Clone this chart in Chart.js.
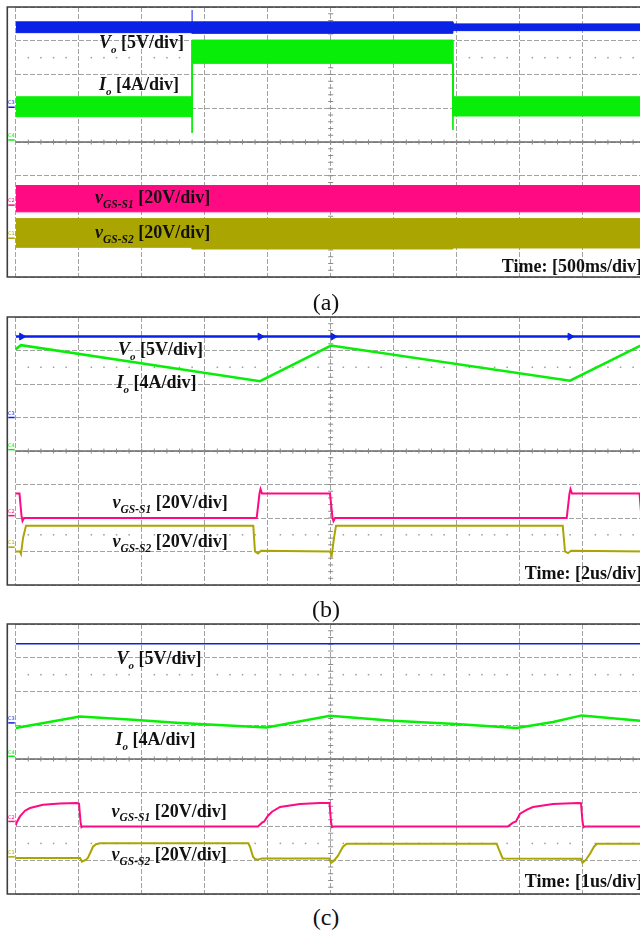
<!DOCTYPE html>
<html>
<head>
<meta charset="utf-8">
<script src="https://cdn.jsdelivr.net/npm/chart.js@4.4.1/dist/chart.umd.min.js"></script>
<style>
  html, body { margin: 0; padding: 0; background: #fff; }
  body { width: 640px; height: 933px; overflow: hidden; position: relative; }
  canvas.scope { position: absolute; left: 0; }
  .lbl { position: absolute; font-family: "Liberation Serif", "Times New Roman", serif; font-weight: bold;
         font-size: 18px; line-height: 18px; white-space: nowrap; color: #111; }
  .lbl i { font-style: italic; }
  .lbl sub { font-size: 11px; font-style: italic; vertical-align: baseline; position: relative; top: 5px; }
  .lbl.sw sub { font-size: 11.5px; top: 4.5px; }
  .time { text-align: right; right: -2px; }
  .cap { position: absolute; font-family: "Liberation Serif", "Times New Roman", serif; font-size: 24px;
         line-height: 24px; width: 60px; text-align: center; color: #111; }
  .ch { position: absolute; font-family: "DejaVu Sans", sans-serif; font-size: 5px; line-height: 5px; }
</style>
</head>
<body>
<canvas id="scopeA" class="scope" width="660" height="278"></canvas>
<canvas id="scopeB" class="scope" width="660" height="278"></canvas>
<canvas id="scopeC" class="scope" width="660" height="278"></canvas>
<script>
// All trace values are in screen divisions: x = 0..10 time divisions, y = -4..+4 from the centre line.
const CH_COLORS = { vo: '#0a22e6', io: '#08ee08', s1: '#ff0a82', s2: '#aaa500' };

// ---- (a) 500 ms/div: load step, traces are switching-ripple envelopes ----
const aVoUpper = [[0, 3.56], [6.94, 3.56], [6.94, 3.50], [10, 3.50]];
const aVoLower = [[0, 3.24], [2.80, 3.24], [2.80, 3.22], [6.94, 3.22], [6.94, 3.30], [10, 3.30]];
const aVoSpike = [[2.80, 3.22], [2.80, 3.91]];
const aIoUpper = [[0, 1.34], [2.80, 1.34], [2.80, 3.02], [6.94, 3.02], [6.94, 1.34], [10, 1.34]];
const aIoLower = [[0, 0.75], [2.80, 0.75], [2.80, 2.33], [6.94, 2.33], [6.94, 0.77], [10, 0.77]];
const aIoSpike1 = [[2.80, 3.02], [2.80, 0.27]];
const aIoSpike2 = [[6.94, 2.33], [6.94, 0.36]];
const aS1Upper = [[0, -1.29], [10, -1.29]];
const aS1Lower = [[0, -2.07], [10, -2.07]];
const aS2Upper = [[0, -2.27], [10, -2.27]];
const aS2Lower = [[0, -3.12], [2.80, -3.12], [2.80, -3.17], [6.94, -3.17], [6.94, -3.14], [10, -3.14]];
const aGround = { vo: 1.03, io: 0.06, s1: -1.87, s2: -2.85 };

// ---- (b) 2 us/div ----
const bVo = [[0, 3.415], [10, 3.415]];
const bVoEdges = [0.095, 3.88, 5.04, 8.80];
const bIo = [[0, 3.04], [0.084, 3.16], [3.878, 2.086], [5.005, 3.146], [8.798, 2.10], [9.91, 3.14], [10, 3.06]];
const bS1 = [[0, -1.27], [0.060, -1.27], [0.092, -1.93], [0.108, -2.09], [0.132, -2.0], [3.825, -2.0],
             [3.870, -1.27], [3.886, -1.14], [3.910, -1.27], [4.989, -1.27], [5.029, -2.0], [5.044, -2.09],
             [5.068, -2.0], [8.746, -2.0], [8.790, -1.27], [8.806, -1.14], [8.830, -1.27], [9.902, -1.27],
             [9.933, -2.0], [10, -2.0]];
const bS2 = [[0, -3.0], [0.068, -3.0], [0.084, -3.07], [0.116, -2.6], [0.163, -2.23], [3.771, -2.23],
             [3.798, -3.0], [3.846, -3.06], [3.894, -2.98], [4.989, -3.0], [5.016, -3.12], [5.052, -2.6],
             [5.084, -2.23], [8.683, -2.23], [8.719, -3.0], [8.767, -3.05], [8.814, -2.98], [10, -3.0]];
const bGround = { vo: 1.0, io: 0.04, s1: -1.93, s2: -2.87 };

// ---- (c) 1 us/div ----
const cVo = [[0, 3.416], [10, 3.416]];
const cIo = [[0, 0.918], [1.02, 1.262], [1.862, 1.164], [2.608, 1.067], [3.984, 0.936], [4.989, 1.283],
             [5.984, 1.135], [6.984, 1.037], [7.952, 0.918], [8.529, 1.096], [8.984, 1.292], [9.91, 1.135],
             [10, 1.105]];
const cS1 = [[0, -1.976], [0.021, -1.858], [0.068, -1.701], [0.148, -1.532], [0.227, -1.452], [0.433, -1.354],
             [0.703, -1.319], [0.973, -1.304], [1.005, -1.324], [1.029, -1.858], [1.044, -2.021], [1.068, -1.997],
             [3.846, -1.997], [3.910, -1.887], [3.941, -1.858], [4.005, -1.680], [4.068, -1.561], [4.195, -1.422],
             [4.513, -1.333], [4.830, -1.304], [4.981, -1.304], [5.005, -1.858], [5.021, -2.021], [5.052, -1.997],
             [7.814, -1.997], [7.894, -1.887], [7.941, -1.849], [8.005, -1.621], [8.116, -1.502], [8.211, -1.422],
             [8.529, -1.333], [8.925, -1.304], [8.973, -1.310], [8.997, -1.858], [9.013, -2.021], [9.037, -1.997],
             [10, -1.997]];
const cS2 = [[0, -2.930], [1.021, -2.930], [1.052, -3.043], [1.116, -2.984], [1.148, -2.924], [1.227, -2.599],
             [1.275, -2.524], [1.338, -2.495], [3.692, -2.495], [3.719, -2.599], [3.767, -2.895], [3.798, -2.963],
             [3.846, -2.984], [3.910, -2.945], [4.973, -2.945], [5.005, -3.081], [5.052, -3.013], [5.116, -2.865],
             [5.195, -2.599], [5.254, -2.510], [7.635, -2.510], [7.671, -2.687], [7.730, -2.945], [8.973, -2.954],
             [8.997, -3.081], [9.052, -2.984], [9.116, -2.806], [9.179, -2.599], [9.227, -2.510], [10, -2.510]];
const cGround = { vo: 1.07, io: 0.08, s1: -1.85, s2: -2.90 };

const CH_NAMES = { vo: 'C3', io: 'C4', s1: 'C2', s2: 'C1' };

const pts = arr => arr.map(([x, y]) => ({ x, y }));

function trace(arr, color, width) {
  return { data: pts(arr), borderColor: color, borderWidth: width, fill: false, pointRadius: 0 };
}
function band(upper, lower, color) {
  return [
    { data: pts(upper), borderColor: color, borderWidth: 1, fill: false, pointRadius: 0 },
    { data: pts(lower), borderColor: color, borderWidth: 1, fill: '-1', backgroundColor: color, pointRadius: 0 }
  ];
}

// Graticule extras: centre cross with minor ticks, dotted reference rows, frame, ground markers
const graticule = {
  id: 'graticule',
  beforeDatasetsDraw(chart, args, opts) {
    const { ctx, chartArea: a, scales: { x, y } } = chart;
    const frameLeft = a.left - 8.4;
    ctx.save();
    // dotted rows
    ctx.fillStyle = '#9c9c9c';
    [2.5, -2.5].forEach(v => {
      const py = y.getPixelForValue(v);
      for (let k = 1; k < 50; k++) {
        if (k % 5 === 0) continue;
        ctx.fillRect(x.getPixelForValue(k / 5) - 0.7, py - 0.7, 1.5, 1.5);
      }
    });
    // centre horizontal line
    const cy = y.getPixelForValue(0), cx = x.getPixelForValue(5);
    ctx.strokeStyle = '#6a6a6a'; ctx.lineWidth = 1.4;
    ctx.beginPath(); ctx.moveTo(a.left, cy); ctx.lineTo(a.right, cy); ctx.stroke();
    // minor ticks on centre lines
    ctx.strokeStyle = '#8a8a8a'; ctx.lineWidth = 1;
    ctx.beginPath();
    for (let k = 1; k < 50; k++) {
      const px = x.getPixelForValue(k / 5);
      ctx.moveTo(px, cy - 2.5); ctx.lineTo(px, cy + 2.5);
    }
    for (let k = -19; k < 20; k++) {
      const py = y.getPixelForValue(k / 5);
      ctx.moveTo(cx - 2.5, py); ctx.lineTo(cx + 2.5, py);
    }
    ctx.stroke();
    // outer frame
    ctx.strokeStyle = '#3c3c3c'; ctx.lineWidth = 1.6;
    ctx.beginPath();
    ctx.moveTo(a.right + 20, a.top); ctx.lineTo(frameLeft, a.top); ctx.lineTo(frameLeft, a.bottom); ctx.lineTo(a.right + 20, a.bottom);
    ctx.stroke();
    // channel ground markers
    Object.entries(opts.ground || {}).forEach(([k, v]) => {
      const py = y.getPixelForValue(v);
      ctx.strokeStyle = CH_COLORS[k]; ctx.lineWidth = 1.5;
      ctx.beginPath(); ctx.moveTo(frameLeft + 1, py); ctx.lineTo(a.left - 1, py); ctx.stroke();
    });
    ctx.restore();
  }
};

function scopePanel(id, top, datasets, ground) {
  const cv = document.getElementById(id);
  cv.style.top = (top - 4) + 'px';
  const gridOpts = { color: '#a3a3a3', lineWidth: 1, drawTicks: false };
  const chart = new Chart(cv, {
    type: 'line',
    data: { datasets },
    options: {
      responsive: false, animation: false, devicePixelRatio: 1,
      layout: { padding: { left: 15.7, right: 14.3, top: 4, bottom: 4 } },
      elements: { line: { tension: 0 }, point: { radius: 0 } },
      plugins: { legend: { display: false }, tooltip: { enabled: false }, graticule: { ground } },
      scales: {
        x: { type: 'linear', min: 0, max: 10, ticks: { display: false, stepSize: 1 }, grid: gridOpts,
             border: { display: false, dash: [5, 2] }, afterFit: s => { s.height = 0; } },
        y: { type: 'linear', min: -4, max: 4, ticks: { display: false, stepSize: 1 }, grid: gridOpts,
             border: { display: false, dash: [5, 2] }, afterFit: s => { s.width = 0; } }
      }
    },
    plugins: [graticule]
  });
  // small channel tags next to the ground markers
  Object.entries(ground).forEach(([k, v]) => {
    const s = document.createElement('span');
    s.className = 'ch';
    s.textContent = CH_NAMES[k];
    s.style.color = CH_COLORS[k];
    s.style.left = '8px';
    s.style.top = (top - 4 + chart.scales.y.getPixelForValue(v) - 7) + 'px';
    document.body.appendChild(s);
  });
  return chart;
}

scopePanel('scopeA', 7, [
  ...band(aVoUpper, aVoLower, CH_COLORS.vo),
  trace(aVoSpike, CH_COLORS.vo, 1),
  ...band(aIoUpper, aIoLower, CH_COLORS.io),
  trace(aIoSpike1, CH_COLORS.io, 1),
  trace(aIoSpike2, CH_COLORS.io, 1),
  ...band(aS1Upper, aS1Lower, CH_COLORS.s1),
  ...band(aS2Upper, aS2Lower, CH_COLORS.s2)
], aGround);

scopePanel('scopeB', 316, [
  { data: bVoEdges.map(x => ({ x, y: bVo[0][1] })), showLine: false, pointStyle: 'triangle', rotation: 90,
    pointRadius: 4, pointBackgroundColor: CH_COLORS.vo, pointBorderColor: CH_COLORS.vo },
  trace(bVo, CH_COLORS.vo, 2.5),
  trace(bIo, CH_COLORS.io, 2.5),
  trace(bS1, CH_COLORS.s1, 2),
  trace(bS2, CH_COLORS.s2, 2)
], bGround);

scopePanel('scopeC', 624.3, [
  trace(cVo, CH_COLORS.vo, 1.6),
  trace(cIo, CH_COLORS.io, 2.5),
  trace(cS1, CH_COLORS.s1, 2),
  trace(cS2, CH_COLORS.s2, 2)
], cGround);

// Trace labels and captions
const LABELS = [
  // [left, baseline, html, subscript class]
  [99, 48, '<i>V</i><sub>o</sub> [5V/div]', ''],
  [99, 89.5, '<i>I</i><sub>o</sub> [4A/div]', ''],
  [95, 203.3, '<i>v</i><sub>GS-S1</sub> [20V/div]', 'sw'],
  [95, 238.3, '<i>v</i><sub>GS-S2</sub> [20V/div]', 'sw'],
  [118, 355, '<i>V</i><sub>o</sub> [5V/div]', ''],
  [116.5, 388.3, '<i>I</i><sub>o</sub> [4A/div]', ''],
  [112.5, 508.3, '<i>v</i><sub>GS-S1</sub> [20V/div]', 'sw'],
  [112.5, 547.3, '<i>v</i><sub>GS-S2</sub> [20V/div]', 'sw'],
  [116.5, 664.3, '<i>V</i><sub>o</sub> [5V/div]', ''],
  [115.5, 745, '<i>I</i><sub>o</sub> [4A/div]', ''],
  [111.5, 816.7, '<i>v</i><sub>GS-S1</sub> [20V/div]', 'sw'],
  [111.5, 860, '<i>v</i><sub>GS-S2</sub> [20V/div]', 'sw']
];
LABELS.forEach(([x, base, html, cls]) => {
  const d = document.createElement('div');
  d.className = 'lbl ' + cls;
  d.innerHTML = html;
  d.style.left = x + 'px';
  d.style.top = (base - 15) + 'px';
  document.body.appendChild(d);
});
const TIME_LABELS = [[271.7, 'Time: [500ms/div]'], [579.3, 'Time: [2us/div]'], [887.3, 'Time: [1us/div]']];
TIME_LABELS.forEach(([base, txt]) => {
  const d = document.createElement('div');
  d.className = 'lbl time';
  d.textContent = txt;
  d.style.top = (base - 15) + 'px';
  document.body.appendChild(d);
});
const CAPTIONS = [[310, '(a)'], [617, '(b)'], [925, '(c)']];
CAPTIONS.forEach(([base, txt]) => {
  const d = document.createElement('div');
  d.className = 'cap';
  d.textContent = txt;
  d.style.left = '296px';
  d.style.top = (base - 20) + 'px';
  document.body.appendChild(d);
});
</script>
</body>
</html>
